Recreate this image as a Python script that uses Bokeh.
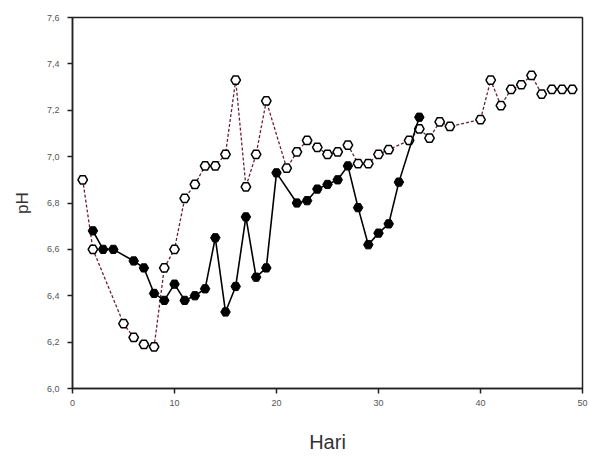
from bokeh.plotting import figure
from bokeh.models import FixedTicker, CustomJSTickFormatter, Range1d
from bokeh.embed import file_html
from bokeh.resources import INLINE

# Filled series (solid line)
days_a = [2, 3, 4, 6, 7, 8, 9, 10, 11, 12, 13, 14, 15, 16, 17, 18, 19, 20,
          22, 23, 24, 25, 26, 27, 28, 29, 30, 31, 32, 34]
ph_a = [6.68, 6.60, 6.60, 6.55, 6.52, 6.41, 6.38, 6.45, 6.38, 6.40, 6.43, 6.65,
        6.33, 6.44, 6.74, 6.48, 6.52, 6.93, 6.80, 6.81, 6.86, 6.88, 6.90, 6.96,
        6.78, 6.62, 6.67, 6.71, 6.89, 7.17]

# Open series (dotted line)
days_b = [1, 2, 5, 6, 7, 8, 9, 10, 11, 12, 13, 14, 15, 16, 17, 18, 19, 21, 22,
          23, 24, 25, 26, 27, 28, 29, 30, 31, 33, 34, 35, 36, 37, 40, 41, 42,
          43, 44, 45, 46, 47, 48, 49]
ph_b = [6.90, 6.60, 6.28, 6.22, 6.19, 6.18, 6.52, 6.60, 6.82, 6.88, 6.96, 6.96,
        7.01, 7.33, 6.87, 7.01, 7.24, 6.95, 7.02, 7.07, 7.04, 7.01, 7.02, 7.05,
        6.97, 6.97, 7.01, 7.03, 7.07, 7.12, 7.08, 7.15, 7.13, 7.16, 7.33, 7.22,
        7.29, 7.31, 7.35, 7.27, 7.29, 7.29, 7.29]

x_ticks = [0, 10, 20, 30, 40, 50]
y_ticks = [6.0, 6.2, 6.4, 6.6, 6.8, 7.0, 7.2, 7.4, 7.6]

p = figure(width=590, height=461, output_backend="svg", toolbar_location=None,
           x_range=Range1d(0, 50), y_range=Range1d(6.0, 7.6),
           min_border_left=72, min_border_right=8, min_border_top=17,
           min_border_bottom=73)
p.background_fill_color = "white"
p.border_fill_color = "white"
p.outline_line_color = "#222222"
p.outline_line_width = 1.5
p.xgrid.visible = False
p.ygrid.visible = False

p.line(days_b, ph_b, line_color="#6a1f3c", line_width=1.3, line_dash="3 2")
p.scatter(days_b, ph_b, marker="hex", size=9.5, fill_color="white",
          line_color="black", line_width=1.5)

p.line(days_a, ph_a, line_color="black", line_width=1.6)
p.scatter(days_a, ph_a, marker="hex", size=9.5, fill_color="black",
          line_color="black", line_width=1.0)

fmt = CustomJSTickFormatter(code="return tick.toFixed(1).replace('.', ',');")
xfmt = CustomJSTickFormatter(code="return tick.toFixed(0);")

for ax in (p.xaxis[0], p.yaxis[0]):
    ax.axis_line_color = "#222222"
    ax.axis_line_width = 1.5
    ax.major_tick_line_color = "#222222"
    ax.major_tick_line_width = 1.5
    ax.major_tick_out = 5
    ax.major_tick_in = 0
    ax.minor_tick_line_color = None
    ax.major_label_text_font = "Liberation Sans"
    ax.major_label_text_font_size = "9px"
    ax.major_label_text_color = "#555555"
    ax.axis_label_text_font = "Liberation Sans"
    ax.axis_label_text_font_style = "normal"
    ax.axis_label_text_color = "#333333"

p.xaxis[0].ticker = FixedTicker(ticks=x_ticks)
p.xaxis[0].formatter = xfmt
p.xaxis[0].axis_label = "Hari"
p.xaxis[0].axis_label_text_font_size = "20px"
p.xaxis[0].axis_label_standoff = 22
p.xaxis[0].major_label_standoff = 6

p.yaxis[0].ticker = FixedTicker(ticks=y_ticks)
p.yaxis[0].formatter = fmt
p.yaxis[0].axis_label = "pH"
p.yaxis[0].axis_label_text_font_size = "17px"
p.yaxis[0].axis_label_standoff = 12
p.yaxis[0].major_label_standoff = 8

open("out.html", "w").write(file_html(p, INLINE))
